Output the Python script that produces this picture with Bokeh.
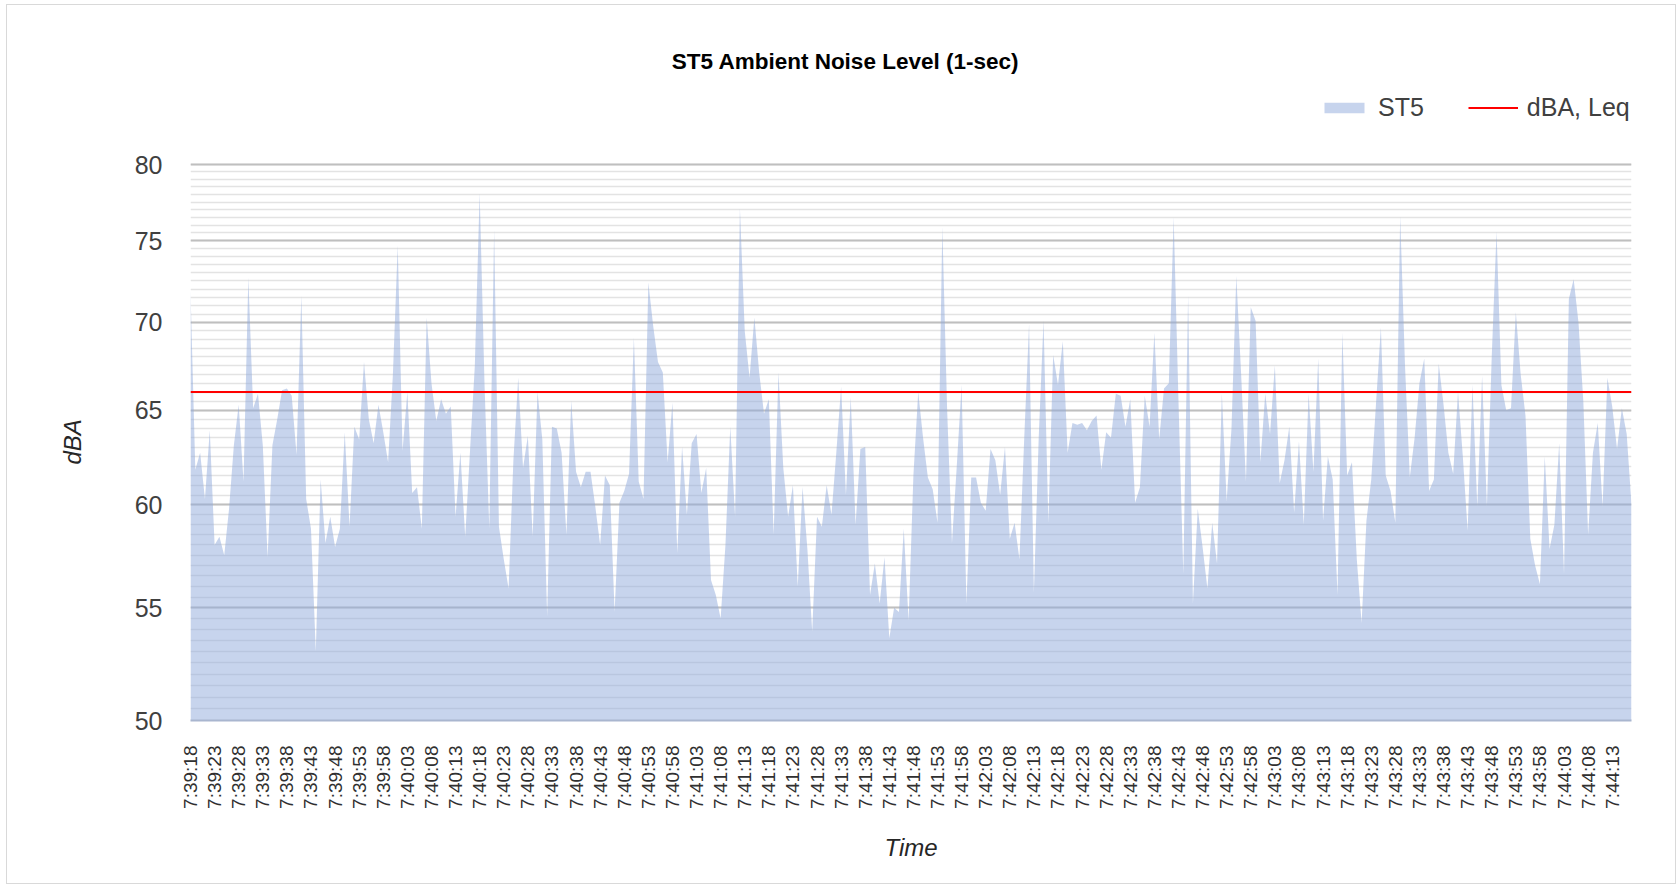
import numpy as np
from datetime import datetime, timedelta
from bokeh.plotting import figure
from bokeh.models import (FixedTicker, Range1d, Label, Legend, LegendItem,
                          BasicTickFormatter, Title)
from bokeh.embed import file_html
from bokeh.resources import INLINE

# ---------------- data ----------------
start_time = "7:39:18"
st5_dba = [
    71.9, 61.8, 62.7, 60.3, 63.9, 58.0, 58.4, 57.5, 59.8, 63.1,
    65.3, 61.2, 72.7, 65.1, 65.9, 63.1, 57.4, 63.1, 64.5, 66.1,
    66.2, 65.8, 62.6, 71.6, 60.3, 58.8, 53.0, 61.3, 58.1, 59.4,
    57.9, 58.8, 63.8, 58.9, 64.1, 63.4, 67.7, 64.5, 63.2, 65.3,
    63.8, 62.2, 67.0, 74.7, 62.8, 66.0, 60.6, 60.9, 58.8, 70.3,
    66.5, 64.4, 65.6, 64.8, 65.2, 59.4, 62.7, 58.4, 62.8, 67.5,
    78.1, 66.5, 58.8, 75.7, 58.9, 57.3, 55.9, 62.3, 66.8, 61.9,
    63.6, 58.4, 66.0, 63.4, 54.6, 64.1, 64.0, 62.7, 58.5, 65.5,
    61.7, 60.9, 61.7, 61.7, 59.9, 58.0, 61.5, 61.0, 54.8, 60.1,
    60.7, 61.6, 69.1, 61.2, 60.3, 72.4, 69.8, 67.7, 67.1, 62.2,
    65.4, 57.6, 63.0, 59.5, 63.2, 63.7, 60.6, 61.9, 56.3, 55.6,
    54.5, 58.0, 64.1, 59.4, 77.1, 69.5, 66.8, 70.3, 67.1, 64.8,
    65.6, 58.5, 67.1, 61.9, 59.4, 61.0, 56.0, 60.9, 57.8, 53.9,
    59.4, 58.9, 61.0, 59.5, 62.7, 66.3, 60.5, 65.7, 59.0, 62.9,
    63.0, 55.6, 57.1, 55.2, 57.4, 53.6, 55.0, 54.8, 58.8, 54.4,
    61.5, 66.0, 63.5, 61.4, 60.8, 59.1, 75.9, 65.0, 58.1, 62.0,
    66.4, 55.2, 61.4, 61.4, 60.1, 59.7, 62.9, 62.3, 60.5, 63.0,
    58.3, 59.1, 57.3, 63.5, 69.9, 55.7, 63.5, 70.1, 59.1, 68.1,
    66.4, 68.9, 62.7, 64.3, 64.2, 64.3, 63.9, 64.4, 64.7, 61.8,
    63.8, 63.5, 65.9, 65.8, 64.1, 65.6, 60.1, 60.9, 65.8, 64.1,
    69.4, 63.4, 66.2, 66.5, 76.5, 65.5, 56.6, 71.6, 55.2, 59.8,
    57.9, 55.9, 59.1, 57.1, 65.9, 60.2, 64.0, 72.8, 67.0, 61.2,
    70.9, 70.1, 62.2, 65.9, 63.7, 67.5, 61.1, 62.3, 64.1, 59.6,
    63.3, 59.0, 65.9, 61.7, 67.9, 59.2, 62.5, 61.3, 55.6, 69.4,
    61.5, 62.2, 57.3, 54.3, 59.2, 61.3, 65.4, 69.7, 61.5, 60.7,
    59.1, 76.6, 67.5, 61.4, 63.5, 66.5, 67.9, 60.7, 61.3, 67.6,
    65.3, 62.7, 61.6, 66.0, 62.5, 58.7, 66.4, 59.9, 66.9, 59.9,
    68.0, 75.6, 66.4, 65.0, 65.1, 70.6, 67.0, 64.7, 58.3, 57.0,
    56.1, 62.5, 57.8, 59.0, 63.2, 56.6, 71.4, 72.6, 70.0, 65.5,
    58.5, 62.7, 64.3, 59.9, 66.8, 65.2, 62.9, 65.1, 63.7, 60.0,
]
leq_dba = 66.0
y_major_ticks = [50, 55, 60, 65, 70, 75, 80]
y_minor_step = 0.5
label_every = 5

idx = list(range(len(st5_dba)))
t0 = datetime.strptime(start_time, "%H:%M:%S")
time_labels = [(t0 + timedelta(seconds=i)).strftime("%H:%M:%S").lstrip("0") for i in idx]

FONT = "Liberation Sans"

# layout (pixels inside the figure)
W, H = 1670, 880
BL, BR, BT, BB = 183, 46, 15, 165
frame_h = H - BT - BB          # 700
axis_h = 556                   # pixels spanned from 50 to 80
y_top = y_major_ticks[0] * (y_major_ticks[-1] / y_major_ticks[0]) ** (frame_h / axis_h)

p = figure(width=W, height=H, output_backend="svg", toolbar_location=None,
           title=None, y_axis_type="log",
           x_range=Range1d(idx[0], idx[-1]), y_range=Range1d(y_major_ticks[0], y_top),
           min_border_left=BL, min_border_right=BR, min_border_top=BT, min_border_bottom=BB)
p.styles = {"border": "1px solid #d9d9d9", "margin-left": "6px", "margin-top": "4px"}
p.outline_line_color = None
p.background_fill_color = "white"
p.border_fill_color = "white"

area = p.varea(x=idx, y1=[y_major_ticks[0]] * len(idx), y2=st5_dba,
               fill_color="#8faadc", fill_alpha=0.5)
leq_line = p.line(x=[idx[0], idx[-1]], y=[leq_dba, leq_dba], line_color="#ff0000", line_width=2)

# y axis
p.yaxis.ticker = FixedTicker(ticks=y_major_ticks,
                             minor_ticks=list(np.arange(y_major_ticks[0], y_major_ticks[-1] + 0.01, y_minor_step)))
p.yaxis.formatter = BasicTickFormatter()
p.yaxis.axis_line_color = None
p.yaxis.major_tick_line_color = None
p.yaxis.minor_tick_line_color = None
p.yaxis.major_tick_out = 0
p.yaxis.minor_tick_out = 0
p.yaxis.major_label_text_font = FONT
p.yaxis.major_label_text_font_size = "25px"
p.yaxis.major_label_text_color = "#404040"
p.yaxis.major_label_standoff = 28

# y axis title, centred on the 50-80 span (placed in the left panel)
ytitle = Title(text="dBA", align="left", offset=256, standoff=91,
               text_font=FONT, text_font_size="24px", text_font_style="italic",
               text_color="#262626")
p.add_layout(ytitle, "left")

p.ygrid.grid_line_color = "#bfbfbf"
p.ygrid.grid_line_width = 2
p.ygrid.minor_grid_line_color = "#e3e3e3"
p.ygrid.minor_grid_line_width = 1.5
p.xgrid.grid_line_color = None

# x axis
ticks = idx[::label_every]
p.xaxis.ticker = FixedTicker(ticks=ticks, minor_ticks=[])
p.xaxis.major_label_overrides = {i: time_labels[i] for i in ticks}
p.xaxis.major_label_orientation = np.pi / 2
p.xaxis.axis_line_color = "#a9b6cf"
p.xaxis.axis_line_width = 2
p.xaxis.major_tick_line_color = None
p.xaxis.minor_tick_line_color = None
p.xaxis.major_tick_out = 0
p.xaxis.minor_tick_out = 0
p.xaxis.major_label_text_font = FONT
p.xaxis.major_label_text_font_size = "19px"
p.xaxis.major_label_text_color = "#303030"
p.xaxis.major_label_standoff = 25
p.xaxis.axis_label = "Time"
p.xaxis.axis_label_text_font = FONT
p.xaxis.axis_label_text_font_size = "24px"
p.xaxis.axis_label_text_font_style = "italic"
p.xaxis.axis_label_text_color = "#262626"
p.xaxis.axis_label_standoff = 22

# title (inside the frame's empty top band)
title = Label(x=655, y=659, x_units="screen", y_units="screen",
              text="ST5 Ambient Noise Level (1-sec)", text_align="center",
              text_baseline="middle", text_font=FONT, text_font_style="bold",
              text_font_size="22.5px", text_color="#000000")
p.add_layout(title)

legend = Legend(items=[LegendItem(label="ST5", renderers=[area]),
                       LegendItem(label="dBA, Leq", renderers=[leq_line])],
                orientation="horizontal", location=(1129, 598),
                glyph_width=50, glyph_height=13, label_standoff=9, spacing=44,
                padding=0, margin=0, border_line_color=None, background_fill_alpha=0,
                label_text_font=FONT, label_text_font_size="25px",
                label_text_color="#404040")
p.add_layout(legend)

open("out.html", "w").write(file_html(p, INLINE))
